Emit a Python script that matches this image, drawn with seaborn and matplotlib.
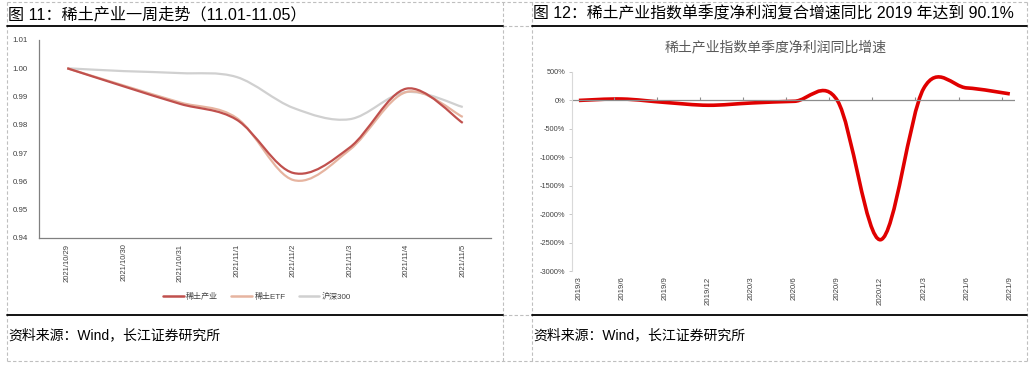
import numpy as np
import pandas as pd
import matplotlib
matplotlib.use("Agg")
import matplotlib.pyplot as plt
import seaborn as sns
from matplotlib.path import Path
from matplotlib.patches import PathPatch
from matplotlib.lines import Line2D

# data
dates = ["2021/10/29", "2021/10/30", "2021/10/31", "2021/11/1",
         "2021/11/2", "2021/11/3", "2021/11/4", "2021/11/5"]
rare_earth = [1.000, 0.9936, 0.9874, 0.9818, 0.9630, 0.9720, 0.9928, 0.9807]
rare_etf = [1.000, 0.9939, 0.9879, 0.9824, 0.9605, 0.9712, 0.9916, 0.9828]
hs300 = [1.000, 0.9990, 0.9983, 0.9969, 0.9860, 0.9820, 0.9916, 0.9863]
series_names = ["稀土产业", "稀土ETF", "沪深300"]
series_colors = ["#C0504D", "#E6B4A0", "#D0D0D0"]

quarters = ["2019/3", "2019/6", "2019/9", "2019/12", "2020/3", "2020/6",
            "2020/9", "2020/12", "2021/3", "2021/6", "2021/9"]
profit_yoy = [0, 25, -35, -85, -45, -15, -5, -2450, 210, 220, 115]

sns.set_theme(style="white")
plt.rcParams["font.family"] = ["Liberation Sans", "Noto Sans CJK SC", "DejaVu Sans"]

W, H = 1030, 366
fig = plt.figure(figsize=(W / 100, H / 100), dpi=100)


def smooth_curve(ax, ys, color, lw):
    # excel-style smoothed line: cubic bezier through every point
    xs = np.arange(len(ys), dtype=float)
    ys = np.asarray(ys, dtype=float)
    n = len(ys)
    verts = [(xs[0], ys[0])]
    codes = [Path.MOVETO]
    for i in range(n - 1):
        p0 = max(i - 1, 0)
        p3 = min(i + 2, n - 1)
        c1 = (xs[i] + (xs[i + 1] - xs[p0]) / 6, ys[i] + (ys[i + 1] - ys[p0]) / 6)
        c2 = (xs[i + 1] - (xs[p3] - xs[i]) / 6, ys[i + 1] - (ys[p3] - ys[i]) / 6)
        verts += [c1, c2, (xs[i + 1], ys[i + 1])]
        codes += [Path.CURVE4] * 3
    ax.add_patch(PathPatch(Path(verts, codes), fill=False, edgecolor=color,
                           lw=lw, capstyle="butt", joinstyle="round"))


def fig_line(x0, y0, x1, y1, **kw):
    fig.add_artist(Line2D([x0 / W, x1 / W], [1 - y0 / H, 1 - y1 / H],
                          transform=fig.transFigure, **kw))


# ---- left chart
ax1 = fig.add_axes([39 / W, 1 - 238 / H, 452 / W, 198 / H])
for vals, c in zip([hs300, rare_etf, rare_earth], series_colors[::-1]):
    smooth_curve(ax1, vals, c, 1.6)
ax1.set_xlim(-0.5, len(dates) - 0.5)
ax1.set_ylim(0.94, 1.01)
ax1.set_yticks(np.arange(0.94, 1.0101, 0.01))
ax1.set_yticklabels([f"{v:.2f}" for v in np.arange(0.94, 1.0101, 0.01)])
ax1.set_xticks(range(len(dates)))
ax1.set_xticklabels(dates, rotation=90)
ax1.set_xticks(np.arange(-0.5, len(dates)), minor=True)
ax1.tick_params(axis="x", which="major", length=0, pad=4, labelsize=5.5, colors="#404040")
ax1.tick_params(axis="x", which="minor", length=3, width=0.8, color="#808080", direction="out")
ax1.tick_params(axis="y", length=0, pad=8, labelsize=5.7, colors="#404040")
sns.despine(ax=ax1)
for s in ["left", "bottom"]:
    ax1.spines[s].set_color("#808080")
    ax1.spines[s].set_linewidth(0.9)
ax1.grid(False)

handles = [Line2D([], [], color=c, lw=1.8) for c in series_colors]
fig.legend(handles, series_names, loc="center", bbox_to_anchor=(257 / W, 1 - 297 / H),
           ncol=3, frameon=False, fontsize=5.8, handlelength=2.6, handletextpad=0.3,
           columnspacing=1.6, labelcolor="#404040")

# ---- right chart
ax2 = fig.add_axes([572 / W, 1 - 271 / H, 443 / W, 199 / H])
smooth_curve(ax2, profit_yoy, "#E00000", 2.6)
ax2.set_xlim(-0.16, len(quarters) - 0.88)
ax2.set_ylim(-3000, 500)
ax2.axhline(0, color="#8C8C8C", lw=0.9, zorder=1)
ax2.set_yticks(np.arange(-3000, 501, 500))
ax2.set_yticklabels([f"{v}%" for v in range(-3000, 501, 500)])
ax2.set_xticks(range(len(quarters)))
ax2.set_xticklabels(quarters, rotation=90)
ax2.tick_params(axis="x", length=0, pad=4, labelsize=5.6, colors="#404040")
ax2.tick_params(axis="y", length=2, width=0.6, color="#BFBFBF", pad=3, labelsize=5.3,
                colors="#404040", left=True)
ax2.vlines(np.arange(len(quarters)) - 0.19, 0, 60, color="#8C8C8C", lw=0.8)
sns.despine(ax=ax2, bottom=True)
ax2.spines["left"].set_color("#D9D9D9")
ax2.spines["left"].set_linewidth(0.8)
ax2.grid(False)
fig.text(776 / W, 1 - 47 / H, "稀土产业指数单季度净利润同比增速", ha="center", va="center",
         fontsize=10, color="#595959")

# ---- titles, sources and frame
fig.text(8 / W, 1 - 14 / H, "图 11：稀土产业一周走势（11.01-11.05）", ha="left", va="center",
         fontsize=11.6, color="black")
fig.text(533 / W, 1 - 14 / H, "图 12：稀土产业指数单季度净利润复合增速同比 2019 年达到 90.1%",
         ha="left", va="center", fontsize=11.4, color="black")
fig.text(8 / W, 1 - 335 / H, "资料来源：Wind，长江证券研究所", ha="left", va="center",
         fontsize=10, color="black")
fig.text(533 / W, 1 - 335 / H, "资料来源：Wind，长江证券研究所", ha="left", va="center",
         fontsize=10, color="black")

dash = dict(color="#BFBFBF", lw=0.8, ls=(0, (3, 2)))
for x in [7, 503, 532, 1027]:
    fig_line(x, 2, x, 361, **dash)
fig_line(7, 2, 1027, 2, **dash)
fig_line(7, 361, 1027, 361, **dash)
fig_line(503, 26, 532, 26, **dash)
fig_line(503, 315, 532, 315, **dash)
for y in [26, 315]:
    fig_line(7, y, 503, y, color="black", lw=1.3)
    fig_line(532, y, 1027, y, color="black", lw=1.3)

fig.savefig("out.png", dpi=100)
